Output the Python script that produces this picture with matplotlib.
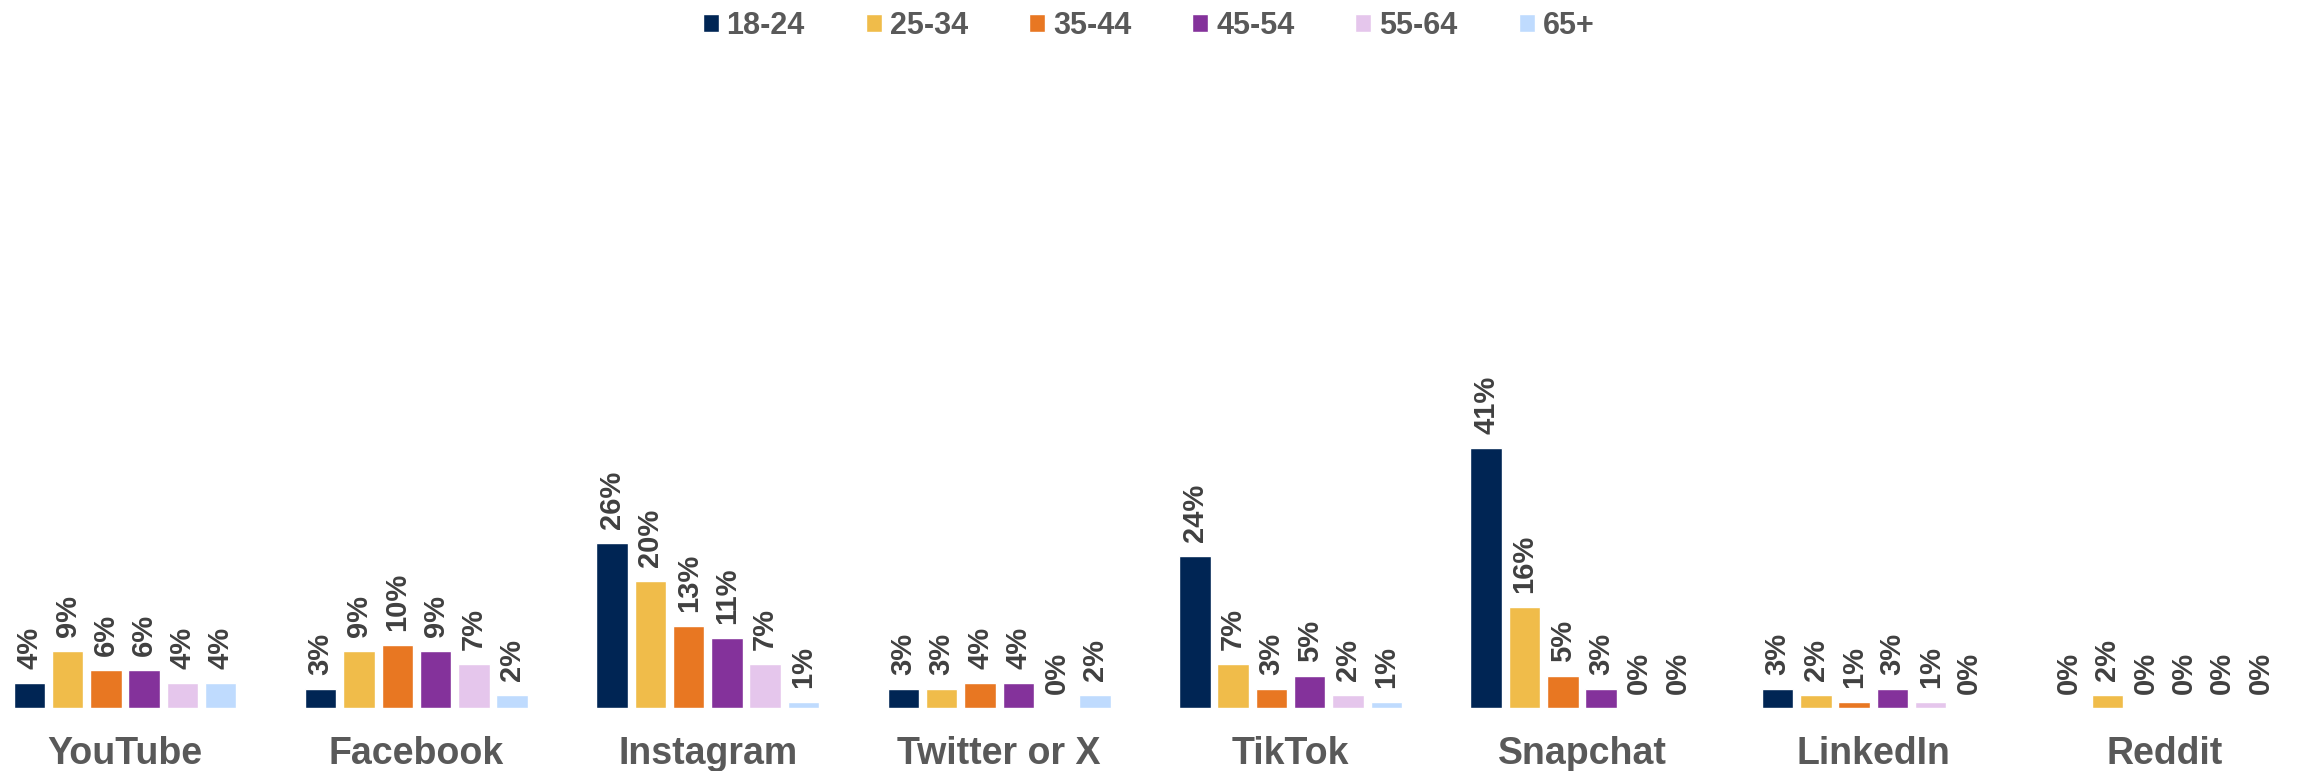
import matplotlib.pyplot as plt
import numpy as np

# plataformas e faixas etarias
platforms = ['YouTube', 'Facebook', 'Instagram', 'Twitter or X', 'TikTok', 'Snapchat', 'LinkedIn', 'Reddit']
ages = ['18-24', '25-34', '35-44', '45-54', '55-64', '65+']

age_18_24 = [4, 3, 26, 3, 24, 41, 3, 0]
age_25_34 = [9, 9, 20, 3, 7, 16, 2, 2]
age_35_44 = [6, 10, 13, 4, 3, 5, 1, 0]
age_45_54 = [6, 9, 11, 4, 5, 3, 3, 0]
age_55_64 = [4, 7, 7, 0, 2, 0, 1, 0]
age_65_up = [4, 2, 1, 2, 1, 0, 0, 0]

series = [age_18_24, age_25_34, age_35_44, age_45_54, age_55_64, age_65_up]
cores = ['#002554', '#F0BC4A', '#E87722', '#84329B', '#E5C6EC', '#BFDBFE']

plt.rcParams['font.family'] = ['Liberation Sans', 'DejaVu Sans']

fig = plt.figure(figsize=(22.97, 7.71), dpi=100)
ax = fig.add_axes([0, 0.0817, 1, 0.822])

x = np.arange(len(platforms))
passo = 0.1314
largura = 0.108

for i, valores in enumerate(series):
    pos = x + (i - 2.5) * passo
    ax.bar(pos, valores, width=largura, color=cores[i], edgecolor='white',
           linewidth=1, label=ages[i])
    for px, v in zip(pos, valores):
        ax.annotate(f'{v}%', (px, v), xytext=(0, 10), textcoords='offset points',
                    rotation=90, ha='center', va='bottom', fontsize=21,
                    fontweight='bold', color='#404040')

ax.set_xlim(-0.429, 7.454)
ax.set_ylim(0, 100)
ax.set_xticks(x)
ax.set_xticklabels(platforms, fontsize=27, fontweight='bold', color='#595959')
ax.tick_params(axis='x', length=0, pad=20)
ax.set_yticks([])
for s in ax.spines.values():
    s.set_visible(False)

fig.legend(loc='upper center', bbox_to_anchor=(0.5, 1.022), ncol=6, frameon=False,
           prop={'size': 22, 'weight': 'bold'}, labelcolor='#595959',
           handlelength=0.52, handleheight=0.52, handletextpad=0.26, columnspacing=2.0)

fig.savefig('out.png', dpi=100)
